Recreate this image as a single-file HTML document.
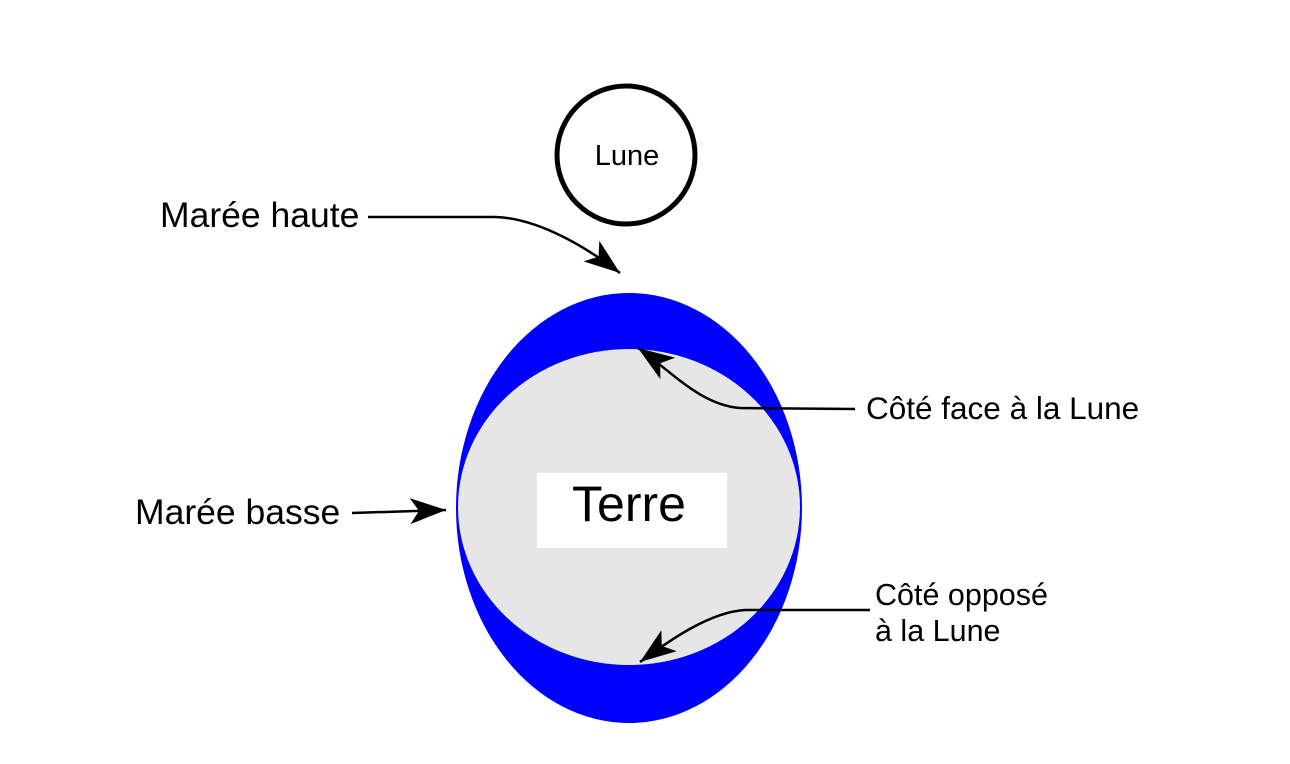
<!DOCTYPE html>
<html><head><meta charset="utf-8"><style>
html,body{margin:0;padding:0;background:#fff;}
svg{display:block;}
text{font-family:"Liberation Sans",Arial,sans-serif;fill:#000;}
</style></head><body>
<svg width="1290" height="764" viewBox="0 0 1290 764" xmlns="http://www.w3.org/2000/svg">
<defs>
<marker id="a" markerUnits="userSpaceOnUse" markerWidth="38" markerHeight="26" refX="36" refY="13" orient="auto">
<path d="M0,0 L36,13 L0,26 L9,13 Z" fill="#000"/>
</marker>
</defs>
<rect width="1290" height="764" fill="#fff"/>
<circle cx="626" cy="155" r="69" fill="#fff" stroke="#000" stroke-width="5"/>
<text x="627" y="165" font-size="29" text-anchor="middle">Lune</text>
<ellipse cx="629" cy="508" rx="173" ry="215" fill="#0000ff"/>
<ellipse cx="629" cy="507" rx="171" ry="158" fill="#e6e6e6"/>
<rect x="537" y="473" width="190" height="75" fill="#fff"/>
<text x="629" y="521" font-size="50" text-anchor="middle">Terre</text>
<text x="160" y="227" font-size="35.5">Marée haute</text>
<text x="135" y="524" font-size="35.5">Marée basse</text>
<text x="866" y="419" font-size="31.5">Côté face à la Lune</text>
<text x="875" y="605" font-size="30.5">Côté opposé</text>
<text x="875" y="641" font-size="30.5">à la Lune</text>
<g fill="none" stroke="#000" stroke-width="2.5">
<path d="M368,217 L495,217 C540,218 590,250 620,273" marker-end="url(#a)"/>
<path d="M855,409 L740,408 C700,405 670,370 638,348" marker-end="url(#a)"/>
<path d="M352,513 L446,510" marker-end="url(#a)"/>
<path d="M870,610 L745,610 C710,612 670,640 640,662" marker-end="url(#a)"/>
</g>
</svg>
</body></html>
